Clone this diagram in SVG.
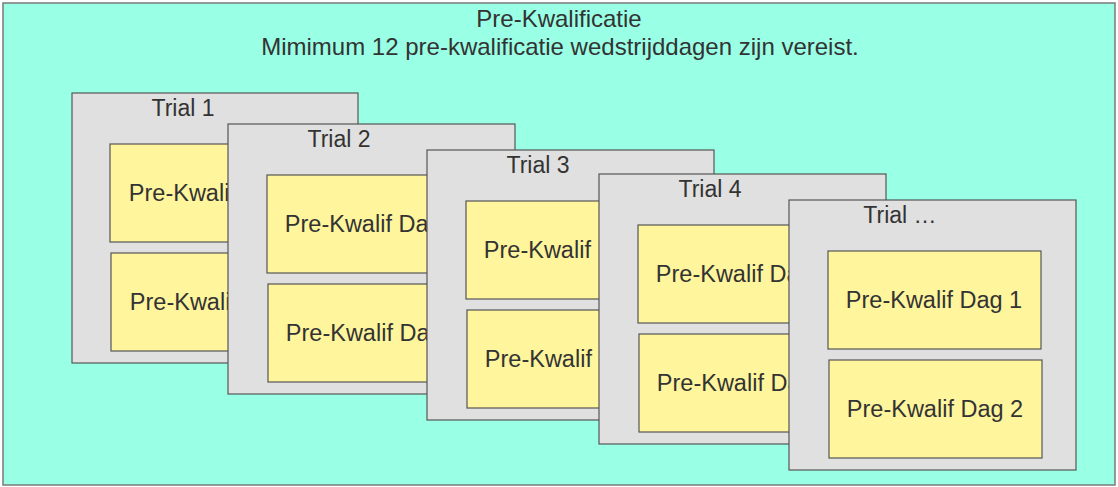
<svg xmlns="http://www.w3.org/2000/svg" width="1118" height="487" viewBox="0 0 1118 487">
<style>
.outer{fill:#99ffe5;stroke:#7a7a7a;stroke-width:1.5}
.trial{fill:#e0e0e0;stroke:#555;stroke-width:1.2}
.day{fill:#fff59d;stroke:#555;stroke-width:1.2}
text{font-family:"Liberation Sans",Arial,sans-serif;font-size:23px;fill:#333;text-anchor:middle}
.title{font-size:24px}
.dt{font-size:23.5px}
</style>
<g id="prekwalificatie">
<rect class="outer" x="3" y="3" width="1112" height="482"/>
<text class="title" x="559" y="27">Pre-Kwalificatie</text>
<text class="title" x="560" y="55">Mimimum 12 pre-kwalificatie wedstrijddagen zijn vereist.</text>
</g>
<g id="trial1" transform="translate(72,93)">
<rect class="trial" x="0" y="0" width="286" height="270"/>
<text x="111" y="23">Trial 1</text>
<g id="trial1-dag1"><rect class="day" x="38" y="51" width="213" height="98"/><text class="dt" x="145" y="108">Pre-Kwalif Dag 1</text></g>
<g id="trial1-dag2"><rect class="day" x="39" y="160" width="213" height="98"/><text class="dt" x="146" y="217">Pre-Kwalif Dag 2</text></g>
</g>
<g id="trial2" transform="translate(228,124)">
<rect class="trial" x="0" y="0" width="287" height="270"/>
<text x="111" y="23">Trial 2</text>
<g id="trial2-dag1"><rect class="day" x="39" y="51" width="213" height="98"/><text class="dt" x="145" y="108">Pre-Kwalif Dag 1</text></g>
<g id="trial2-dag2"><rect class="day" x="40" y="160" width="213" height="98"/><text class="dt" x="146" y="217">Pre-Kwalif Dag 2</text></g>
</g>
<g id="trial3" transform="translate(427,150)">
<rect class="trial" x="0" y="0" width="287" height="270"/>
<text x="111" y="23">Trial 3</text>
<g id="trial3-dag1"><rect class="day" x="39" y="51" width="213" height="98"/><text class="dt" x="145" y="108">Pre-Kwalif Dag 1</text></g>
<g id="trial3-dag2"><rect class="day" x="40" y="160" width="213" height="98"/><text class="dt" x="146" y="217">Pre-Kwalif Dag 2</text></g>
</g>
<g id="trial4" transform="translate(599,174)">
<rect class="trial" x="0" y="0" width="287" height="270"/>
<text x="111" y="23">Trial 4</text>
<g id="trial4-dag1"><rect class="day" x="39" y="51" width="213" height="98"/><text class="dt" x="145" y="108">Pre-Kwalif Dag 1</text></g>
<g id="trial4-dag2"><rect class="day" x="40" y="160" width="213" height="98"/><text class="dt" x="146" y="217">Pre-Kwalif Dag 2</text></g>
</g>
<g id="trial5" transform="translate(789,200)">
<rect class="trial" x="0" y="0" width="287" height="270"/>
<text x="111" y="23">Trial …</text>
<g id="trial5-dag1"><rect class="day" x="39" y="51" width="213" height="98"/><text class="dt" x="145" y="108">Pre-Kwalif Dag 1</text></g>
<g id="trial5-dag2"><rect class="day" x="40" y="160" width="213" height="98"/><text class="dt" x="146" y="217">Pre-Kwalif Dag 2</text></g>
</g>
<g id="connectors"/>
</svg>
